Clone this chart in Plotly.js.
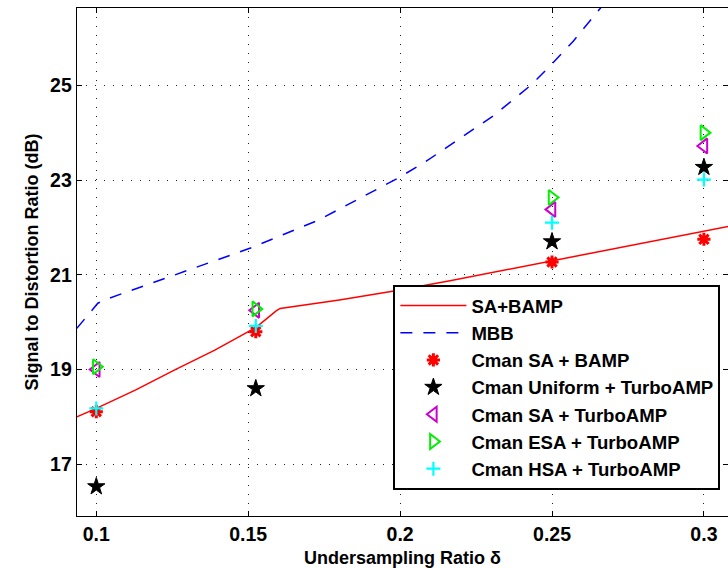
<!DOCTYPE html>
<html>
<head>
<meta charset="utf-8">
<script src="https://cdn.plot.ly/plotly-3.0.1.min.js"></script>
<style>html,body{margin:0;padding:0;background:#fff;}#chart{width:728px;height:568px;}</style>
</head>
<body>
<div id="chart"></div>
<script>
// SA+BAMP curve (red solid)
const saBampX = [0.0936, 0.1, 0.113, 0.126, 0.139, 0.1526, 0.1592, 0.1605, 0.18, 0.198, 0.216, 0.25, 0.305, 0.308];
const saBampY = [18.0, 18.18, 18.57, 19.0, 19.41, 19.89, 20.24, 20.29, 20.47, 20.66, 20.87, 21.3, 21.99, 22.02];
// MBB curve (blue dashed)
const mbbX = [0.0936, 0.1005, 0.104, 0.126, 0.151, 0.173, 0.199, 0.208, 0.231, 0.243, 0.25, 0.257, 0.266, 0.272];
const mbbY = [19.87, 20.40, 20.50, 21.0, 21.57, 22.15, 23.03, 23.37, 24.37, 25.0, 25.45, 25.93, 26.62, 27.1];
// Marker series
const markerX = [0.1, 0.1525, 0.25, 0.3];
const cmanSaBamp = [18.11, 19.8, 21.27, 21.75];
const cmanUniformTurbo = [16.53, 18.6, 21.7, 23.27];
const cmanSaTurbo = [19.0, 20.25, 22.38, 23.72];
const cmanEsaTurbo = [19.06, 20.28, 22.63, 24.0];
const cmanHsaTurbo = [18.18, 19.92, 22.1, 23.01];
const xTicks = [0.1, 0.15, 0.2, 0.25, 0.3];
const xTickText = ['0.1', '0.15', '0.2', '0.25', '0.3'];
const yTicks = [17, 19, 21, 23, 25];
const yTickText = ['17', '19', '21', '23', '25'];

const FONT = 'Liberation Sans, Arial, Helvetica, sans-serif';

const traces = [
  {x: saBampX, y: saBampY, name: 'SA+BAMP', mode: 'lines', type: 'scatter',
   line: {color: '#ff0000', width: 1.5}},
  {x: mbbX, y: mbbY, name: 'MBB', mode: 'lines', type: 'scatter',
   line: {color: '#0000ff', width: 1.5, dash: '12px,11px'}},
  {x: markerX, y: cmanSaBamp, name: 'Cman SA + BAMP', mode: 'markers', type: 'scatter',
   marker: {symbol: 'asterisk-open', size: 11, color: '#ff0000', line: {color: '#ff0000', width: 3}}},
  {x: markerX, y: cmanUniformTurbo, name: 'Cman Uniform + TurboAMP', mode: 'markers', type: 'scatter',
   marker: {symbol: 'star', size: 13, color: '#000000', line: {color: '#000000', width: 1}}},
  {x: markerX, y: cmanSaTurbo, name: 'Cman SA + TurboAMP', mode: 'markers', type: 'scatter',
   marker: {symbol: 'triangle-left-open', size: 13, color: '#cc00cc', line: {color: '#cc00cc', width: 2}}},
  {x: markerX, y: cmanEsaTurbo, name: 'Cman ESA + TurboAMP', mode: 'markers', type: 'scatter',
   marker: {symbol: 'triangle-right-open', size: 13, color: '#00ee00', line: {color: '#00ee00', width: 2}}},
  {x: markerX, y: cmanHsaTurbo, name: 'Cman HSA + TurboAMP', mode: 'markers', type: 'scatter',
   marker: {symbol: 'cross-thin-open', size: 10, color: '#00ffff', line: {color: '#00ffff', width: 2.2}}}
];

const axisCommon = {
  showgrid: true, gridcolor: '#222', gridwidth: 1, griddash: '1px,8px',
  ticks: 'inside', ticklen: 5, tickcolor: '#000', tickwidth: 1,
  showline: true, linecolor: '#000', linewidth: 1.3, mirror: 'ticks',
  zeroline: false, automargin: false,
  tickfont: {family: FONT, size: 19.5, color: '#000', weight: 'bold'}
};

const layout = {
  width: 728, height: 568,
  margin: {l: 77, r: 0, t: 8, b: 52},
  paper_bgcolor: '#fff', plot_bgcolor: '#fff',
  showlegend: true,
  xaxis: Object.assign({}, axisCommon, {
    range: [0.09365, 0.30793], tickvals: xTicks, ticktext: xTickText,
    title: {text: 'Undersampling Ratio δ', font: {family: FONT, size: 18, color: '#000', weight: 'bold'}, standoff: 8}
  }),
  yaxis: Object.assign({}, axisCommon, {
    range: [15.909, 26.631], tickvals: yTicks, ticktext: yTickText,
    title: {text: 'Signal to Distortion Ratio (dB)', font: {family: FONT, size: 18, color: '#000', weight: 'bold'}, standoff: 6}
  }),
  legend: {
    x: 0.486, y: 0.4547, xanchor: 'left', yanchor: 'top',
    bgcolor: '#fff', bordercolor: '#000', borderwidth: 2,
    font: {family: FONT, size: 18.6, color: '#000', weight: 'bold'},
    itemwidth: 66, tracegroupgap: 0
  }
};

Plotly.newPlot('chart', traces, layout, {displayModeBar: false, staticPlot: true});
</script>
</body>
</html>
